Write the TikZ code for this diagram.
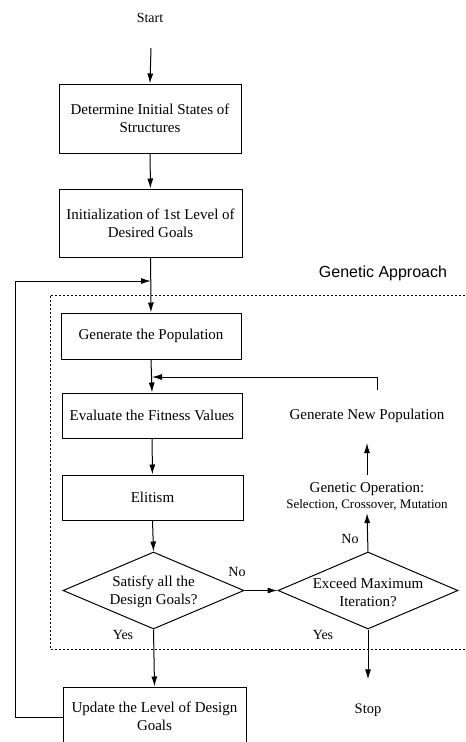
\documentclass[tikz,border=0pt]{standalone}
\usepackage{fontspec}
\setmainfont{Liberation Serif}
\newfontfamily\gafont{Liberation Sans}
\usetikzlibrary{shapes.geometric,arrows.meta}
\begin{document}
\begin{tikzpicture}[x=1pt,y=-1pt,
  txt/.style={font=\fontsize{15}{18}\selectfont,align=center,inner sep=2pt},
  box/.style={txt,draw,line width=1pt},
  dia/.style={draw,line width=1pt,shape=diamond,aspect=2.35,inner sep=0pt},
  lbl/.style={font=\fontsize{14}{16}\selectfont,inner sep=1pt},
  arr/.style={line width=1pt,-{Latex[length=10pt,width=6pt]}},
  dashbox/.style={line width=0.7pt,dash pattern=on 2pt off 2pt}]
\useasboundingbox (0,0) rectangle (466,742);

\node[txt,font=\fontsize{14}{16}\selectfont] (start) at (150,18) {Start};
\coordinate (startend) at (151,48);

\node[box,minimum width=182pt,minimum height=69pt] (b1) at (150,118.5) {Determine Initial States of\\Structures};
\node[box,minimum width=183pt,minimum height=68pt] (b2) at (150.5,223) {Initialization of 1st Level of\\Desired Goals};

\draw[dashbox] (50,470) -- (50,295) -- (470,295);
\draw[dashbox] (50,470) -- (50,649) -- (470,649);
\node[font=\gafont\fontsize{16}{18}\selectfont,inner sep=0pt] (ga) at (383,273) {Genetic Approach};

\node[box,minimum width=180pt,minimum height=46pt] (gp) at (151,336) {Generate the Population};
\node[box,minimum width=180pt,minimum height=45pt] (ev) at (152,415.5) {Evaluate the Fitness Values};
\node[box,minimum width=181pt,minimum height=45pt] (el) at (152.5,497.5) {Elitism};

\node[dia,minimum width=181pt,minimum height=77pt] (d1) at (153.5,590.5) {};
\node[txt] (d1t) at (153.5,592) {Satisfy all the\\Design Goals?};
\node[dia,minimum width=180pt,minimum height=77pt] (d2) at (368,590.5) {};
\node[txt] (d2t) at (368,592) {Exceed Maximum\\Iteration?};

\node[box,minimum width=183pt,minimum height=58pt] (up) at (154.5,716) {Update the Level of Design\\Goals};

\node[txt] (gn) at (367,416) {Generate New Population};
\node[txt] (go) at (367,497) {Genetic Operation:\\[-2pt]{\fontsize{13}{15}\selectfont Selection, Crossover, Mutation}};
\node[txt,font=\fontsize{14.5}{16}\selectfont] (stop) at (368,710) {Stop};

\node[lbl] (no1) at (237,572) {No};
\node[lbl] (no2) at (350,539) {No};
\node[lbl] (yes1) at (123,635) {Yes};
\node[lbl] (yes2) at (323,635) {Yes};

% main flow
\draw[arr] (startend) -- (b1.north);
\draw[arr] (b1) -- (b2);
\draw[arr] (b2) -- (gp);
\coordinate (j2) at (ev.north |- 0,377);
\draw[arr] (gp.south) -- (ev.north);
\draw[arr] (ev) -- (el);
\draw[arr] (el.south) -- (d1.north);
\draw[arr] (d1.east) -- (d2.west);
\draw[arr] (d1.south) -- (up.north);
\draw[arr] (d2.north) -- (go.south);
\draw[arr,shorten <=6pt,shorten >=18pt] (go.north) -- (gn.south);
\draw[arr,shorten >=22pt] (d2.south) -- (stop.north);

% feedback from genetic operation
\coordinate (fb) at (377,390);
\draw[arr] (fb) -- (377,377) -- (j2);

% outer loop
\coordinate (j1) at (151,281);
\coordinate (lc) at (15,717);
\draw[arr] (up.west |- lc) -- (lc) -- (lc |- j1) -- (j1);
\end{tikzpicture}
\end{document}
